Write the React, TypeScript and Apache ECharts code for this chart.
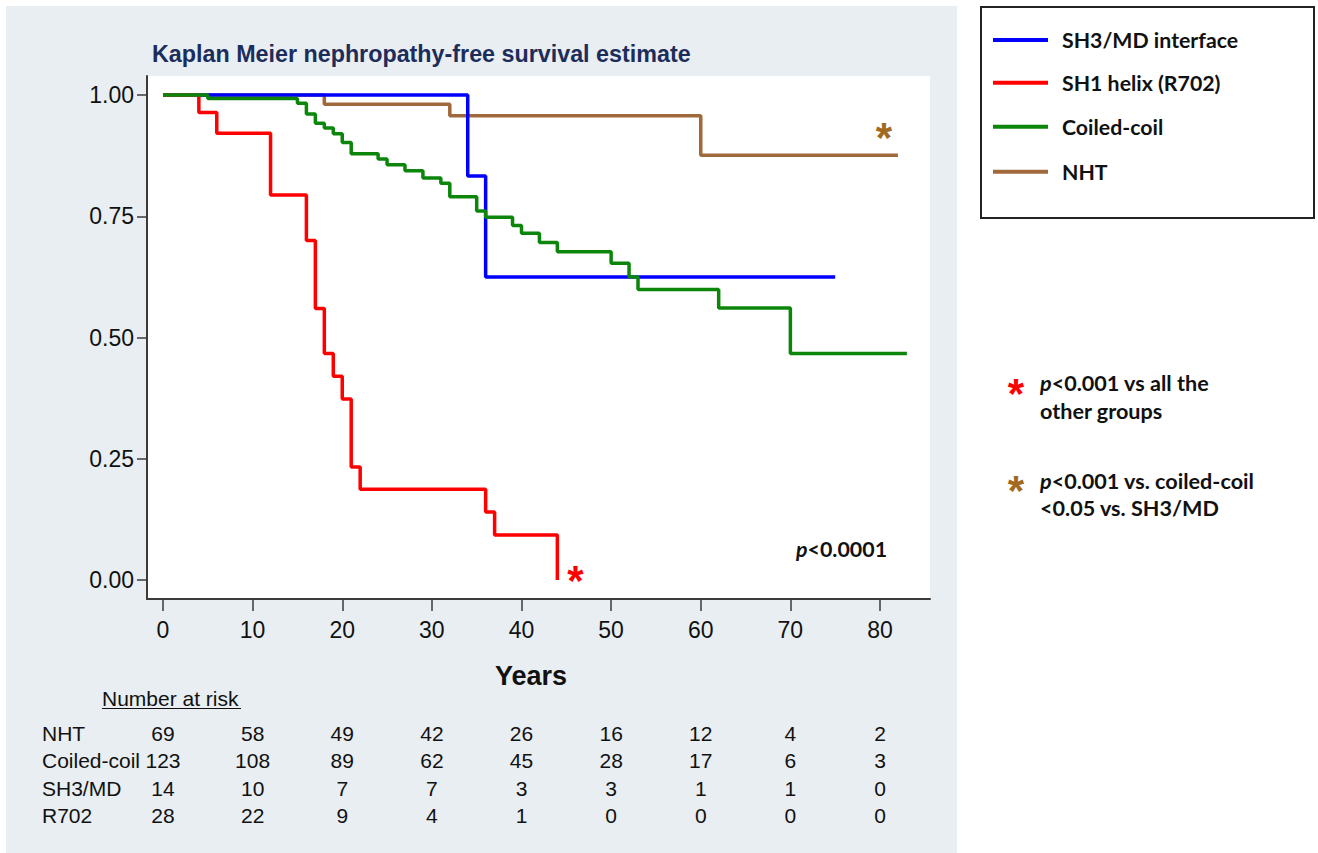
import React, { useEffect, useRef } from "react";
import * as echarts from "echarts";

// ---------- data ----------
const xTicks = [0, 10, 20, 30, 40, 50, 60, 70, 80];
const yTicks = [0, 0.25, 0.5, 0.75, 1];

const sh3Times = [0, 34, 36, 75];
const sh3Surv = [1, 0.833, 0.625, 0.625];

const r702Times = [0, 4, 6, 12, 16, 17, 18, 19, 20, 21, 22, 36, 37, 44];
const r702Surv = [1, 0.964, 0.921, 0.794, 0.7, 0.56, 0.467, 0.42, 0.373, 0.233, 0.187, 0.14, 0.093, 0];

const ccTimes = [0, 5, 15, 16, 17, 18, 19, 20, 21, 24, 25, 27, 29, 31, 32, 35, 36, 39, 40, 42, 44, 50, 52, 53, 62, 70, 83];
const ccSurv = [1, 0.993, 0.983, 0.961, 0.942, 0.932, 0.92, 0.902, 0.879, 0.868, 0.856, 0.844, 0.829, 0.818, 0.79, 0.761, 0.748, 0.731, 0.715, 0.696, 0.677, 0.653, 0.625, 0.599, 0.561, 0.467, 0.467];

const nhtTimes = [0, 18, 32, 60, 82];
const nhtSurv = [1, 0.981, 0.957, 0.876, 0.876];

const legendLabels = ["SH3/MD interface", "SH1 helix (R702)", "Coiled-coil", "NHT"];

const riskGroups = ["NHT", "Coiled-coil", "SH3/MD", "R702"];
const riskNHT = [69, 58, 49, 42, 26, 16, 12, 4, 2];
const riskCC = [123, 108, 89, 62, 45, 28, 17, 6, 3];
const riskSH3 = [14, 10, 7, 7, 3, 3, 1, 1, 0];
const riskR702 = [28, 22, 9, 4, 1, 0, 0, 0, 0];

const titleText = "Kaplan Meier nephropathy-free survival estimate";
const xName = "Years";
const riskTitle = "Number at risk";
const pOverall = "<0.0001";
const noteRed = ["<0.001 vs all the", "other groups"];
const noteBrown = ["<0.001 vs. coiled-coil", "<0.05 vs. SH3/MD"];

// ---------- styles ----------
const BLUE = "#0000ff";
const RED = "#ff0000";
const GREEN = "#0b860b";
const BROWN = "#a0693b";
const STAR_BROWN = "#a06a22";
const BG = "#e8eef1";
const AX = "#3a3a3a";
const SANS = '"Liberation Sans", Arial, sans-serif';
const CAL = 'Lato, "Open Sans", sans-serif';

const X_MIN = -16 / 8.9625;
const X_MAX = 767 / 8.9625;
const Y_MIN = -19 / 485;
const Y_MAX = 1 + 19 / 485;

const zip = (t: number[], s: number[]) => t.map((v, i) => [v, s[i]]);

export default function App() {
  const ref = useRef<HTMLDivElement>(null);
  useEffect(() => {
    if (!ref.current) return;
    const chart = echarts.init(ref.current, null, { renderer: "svg" });
    const mk = (name: string, data: number[][], color: string) => ({
      name,
      type: "line",
      step: "end",
      data,
      symbol: "none",
      clip: false,
      lineStyle: { color, width: 3.5 },
      itemStyle: { color },
      z: 3,
    });
    chart.setOption({
      animation: false,
      backgroundColor: "#ffffff",
      grid: { left: 147, top: 76, width: 783, height: 523, show: false },
      xAxis: {
        type: "value",
        min: X_MIN,
        max: X_MAX,
        axisLine: { show: true, onZero: false, lineStyle: { color: AX, width: 2 } },
        axisTick: { show: true, length: 12, customValues: xTicks, lineStyle: { color: AX, width: 1.5 } },
        axisLabel: { customValues: xTicks, margin: 19, fontSize: 23, color: "#111", fontFamily: SANS },
        splitLine: { show: false },
      },
      yAxis: {
        type: "value",
        min: Y_MIN,
        max: Y_MAX,
        axisLine: { show: true, onZero: false, lineStyle: { color: AX, width: 2 } },
        axisTick: { show: true, length: 10, customValues: yTicks, lineStyle: { color: AX, width: 1.5 } },
        axisLabel: {
          customValues: yTicks,
          margin: 13,
          fontSize: 23,
          color: "#111",
          fontFamily: SANS,
          formatter: (v: number) => v.toFixed(2),
        },
        splitLine: { show: false },
      },
      series: [
        mk("NHT", zip(nhtTimes, nhtSurv), BROWN),
        mk("SH3/MD interface", zip(sh3Times, sh3Surv), BLUE),
        mk("SH1 helix (R702)", zip(r702Times, r702Surv), RED),
        mk("Coiled-coil", zip(ccTimes, ccSurv), GREEN),
      ],
    });

    const px = (t: number) => chart.convertToPixel({ xAxisIndex: 0 }, t) as number;
    const py = (s: number) => chart.convertToPixel({ yAxisIndex: 0 }, s) as number;

    const txt = (x: number, y: number, text: string, opt: any = {}) => ({
      type: "text",
      x,
      y,
      z: 10,
      style: {
        text,
        fontFamily: SANS,
        fontSize: 21,
        fill: "#111",
        textAlign: "left",
        align: "left",
        textVerticalAlign: "middle",
        verticalAlign: "middle",
        ...opt,
      },
    });
    const star = (x: number, y: number, color: string) =>
      txt(x, y + 10, "*", { fontFamily: SANS, fontWeight: "bold", fontSize: 42, fill: color, textAlign: "center", align: "center" });
    const pRich = (x: number, y: number, rest: string, size: number) => ({
      type: "text",
      x,
      y,
      z: 10,
      style: {
        text: "{i|p}{n|" + rest + "}",
        textAlign: "left",
        align: "left",
        textVerticalAlign: "middle",
        verticalAlign: "middle",
        rich: {
          i: { fontFamily: CAL, fontWeight: "bold", fontStyle: "italic", fontSize: size, fill: "#111", color: "#111" },
          n: { fontFamily: CAL, fontWeight: "bold", fontSize: size, fill: "#111", color: "#111" },
        },
      },
    });

    const graphics: any[] = [];
    graphics.push({ type: "rect", z: -20, shape: { x: 6, y: 6, width: 951, height: 847 }, style: { fill: BG } });
    graphics.push({ type: "rect", z: -19, shape: { x: 147, y: 76, width: 783, height: 523 }, style: { fill: "#ffffff" } });
    graphics.push(txt(152, 53.5, titleText, { fontWeight: "bold", fontSize: 23.3, fill: "#1d2d5b" }));
    graphics.push(txt(531, 676, xName, { fontWeight: "bold", fontSize: 27, textAlign: "center", align: "center" }));
    graphics.push(txt(102, 698, riskTitle, { fontSize: 21 }));
    graphics.push({ type: "line", z: 10, shape: { x1: 102, y1: 708.5, x2: 241, y2: 708.5 }, style: { stroke: "#111", lineWidth: 1.2 } });

    const rows = [riskNHT, riskCC, riskSH3, riskR702];
    const rowY = [733.5, 760.5, 788, 815.5];
    rows.forEach((row, r) => {
      graphics.push(txt(42, rowY[r], riskGroups[r], { fontSize: 21 }));
      row.forEach((v, i) => {
        graphics.push(txt(px(xTicks[i]), rowY[r], String(v), { fontSize: 21, textAlign: "center", align: "center" }));
      });
    });

    // p-value in plot
    graphics.push(pRich(796, 549, pOverall, 21.4));
    // asterisks on curves
    graphics.push(star(px(r702Times[r702Times.length - 1]) + 18, py(0) - 10, RED));
    graphics.push(star(px(nhtTimes[nhtTimes.length - 1]) - 14, py(nhtSurv[nhtSurv.length - 1]) - 28, STAR_BROWN));

    // legend box
    graphics.push({ type: "rect", z: 5, shape: { x: 981, y: 7, width: 333, height: 211 }, style: { fill: "#fff", stroke: "#222", lineWidth: 2 } });
    const legColors = [BLUE, RED, GREEN, BROWN];
    const legY = [40, 82.7, 126.7, 171.7];
    legendLabels.forEach((l, i) => {
      graphics.push({ type: "line", z: 10, shape: { x1: 993, y1: legY[i], x2: 1048, y2: legY[i] }, style: { stroke: legColors[i], lineWidth: 4 } });
      graphics.push(txt(1062, legY[i], l, { fontFamily: CAL, fontWeight: "bold", fontSize: 21.3 }));
    });

    // notes
    graphics.push(star(1016, 383, RED));
    graphics.push(pRich(1040, 383, noteRed[0], 21.6));
    graphics.push(txt(1040, 411, noteRed[1], { fontFamily: CAL, fontWeight: "bold", fontSize: 21.6 }));
    graphics.push(star(1016, 480, STAR_BROWN));
    graphics.push(pRich(1040, 481, noteBrown[0], 21.6));
    graphics.push(txt(1040, 508, noteBrown[1], { fontFamily: CAL, fontWeight: "bold", fontSize: 21.6 }));

    chart.setOption({ graphic: { elements: graphics } });
    return () => chart.dispose();
  }, []);
  return <div ref={ref} style={{ position: "fixed", left: 0, top: 0, width: 1318, height: 853 }} />;
}
